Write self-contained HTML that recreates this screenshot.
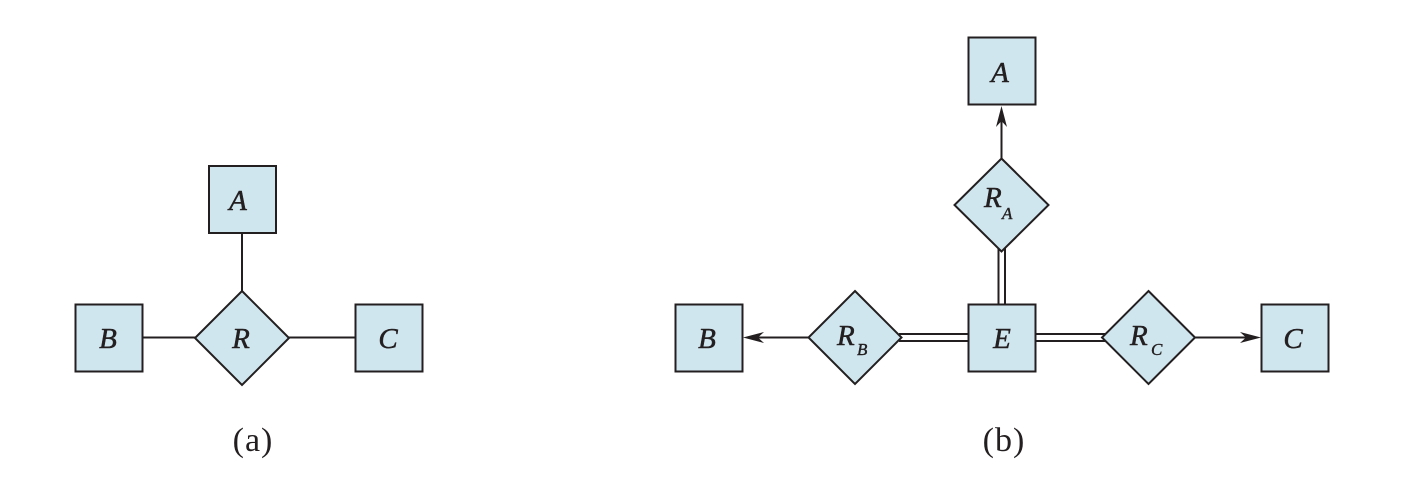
<!DOCTYPE html>
<html>
<head>
<meta charset="utf-8">
<style>
  html,body{margin:0;padding:0;background:#fff;}
  svg{display:block;}
  .box{fill:#d0e6ef;stroke:#231f20;stroke-width:2;}
  .ln{stroke:#231f20;stroke-width:2;fill:none;}
  .lbl{font-family:"Liberation Serif",serif;font-style:italic;font-size:29px;fill:#231f20;stroke:#231f20;stroke-width:0.5px;}
  .sub{font-family:"Liberation Serif",serif;font-style:italic;font-size:17px;fill:#231f20;stroke:#231f20;stroke-width:0.4px;}
  .cap{font-family:"Liberation Serif",serif;font-size:34px;fill:#231f20;letter-spacing:1px;}
</style>
</head>
<body>
<svg width="1410" height="500" viewBox="0 0 1410 500" xmlns="http://www.w3.org/2000/svg">
  <!-- ===== (a) ===== -->
  <line class="ln" x1="242" y1="233" x2="242" y2="292"/>
  <line class="ln" x1="142" y1="337.5" x2="196" y2="337.5"/>
  <line class="ln" x1="288" y1="337.5" x2="356" y2="337.5"/>
  <rect class="box" x="209" y="166" width="67" height="67"/>
  <rect class="box" x="75.5" y="304.5" width="67" height="67"/>
  <rect class="box" x="355.5" y="304.5" width="67" height="67"/>
  <polygon class="box" points="242,291 289,338 242,385 195,338"/>
  <text class="lbl" font-size="29" x="238" y="210" text-anchor="middle">A</text>
  <text class="lbl" font-size="29" x="108" y="348" text-anchor="middle">B</text>
  <text class="lbl" font-size="29" x="388" y="348" text-anchor="middle">C</text>
  <text class="lbl" font-size="29" x="241" y="348" text-anchor="middle">R</text>
  <text class="cap" font-size="34" x="253" y="451" text-anchor="middle">(a)</text>

  <!-- ===== (b) ===== -->
  <line class="ln" x1="1001.5" y1="158" x2="1001.5" y2="118"/>
  <polygon points="1001.5,106 1007,127 1001.5,121 996,127" fill="#231f20"/>
  <line class="ln" x1="998.5" y1="248" x2="998.5" y2="305"/>
  <line class="ln" x1="1005" y1="248" x2="1005" y2="305"/>
  <line class="ln" x1="809" y1="337.5" x2="755" y2="337.5"/>
  <polygon points="743,337.5 764,332 758,337.5 764,343" fill="#231f20"/>
  <line class="ln" x1="899" y1="334" x2="969" y2="334"/>
  <line class="ln" x1="899" y1="341" x2="969" y2="341"/>
  <line class="ln" x1="1035" y1="334" x2="1105" y2="334"/>
  <line class="ln" x1="1035" y1="341" x2="1105" y2="341"/>
  <line class="ln" x1="1194" y1="337.5" x2="1250" y2="337.5"/>
  <polygon points="1261,337.5 1240,332 1246,337.5 1240,343" fill="#231f20"/>

  <rect class="box" x="968.5" y="37.5" width="67" height="67"/>
  <polygon class="box" points="1001.5,158.5 1048.5,205 1001.5,251.5 954.5,205"/>
  <rect class="box" x="968.5" y="304.5" width="67" height="67"/>
  <rect class="box" x="675.5" y="304.5" width="67" height="67"/>
  <polygon class="box" points="855,291 901.5,337.5 855,384 808.5,337.5"/>
  <polygon class="box" points="1148.5,291 1195,337.5 1148.5,384 1102,337.5"/>
  <rect class="box" x="1261.5" y="304.5" width="67" height="67"/>

  <text class="lbl" font-size="29" x="1000" y="82" text-anchor="middle">A</text>
  <text class="lbl" font-size="29" x="1002" y="348" text-anchor="middle">E</text>
  <text class="lbl" font-size="29" x="707" y="348" text-anchor="middle">B</text>
  <text class="lbl" font-size="29" x="1293" y="348" text-anchor="middle">C</text>

  <text class="lbl" font-size="29" x="984" y="207">R</text><text class="sub" font-size="17" x="1002" y="219">A</text>
  <text class="lbl" font-size="29" x="837" y="345">R</text><text class="sub" font-size="17" x="857" y="355">B</text>
  <text class="lbl" font-size="29" x="1130" y="345">R</text><text class="sub" font-size="17" x="1151" y="355">C</text>

  <text class="cap" font-size="34" x="1004" y="451" text-anchor="middle">(b)</text>
</svg>
</body>
</html>
